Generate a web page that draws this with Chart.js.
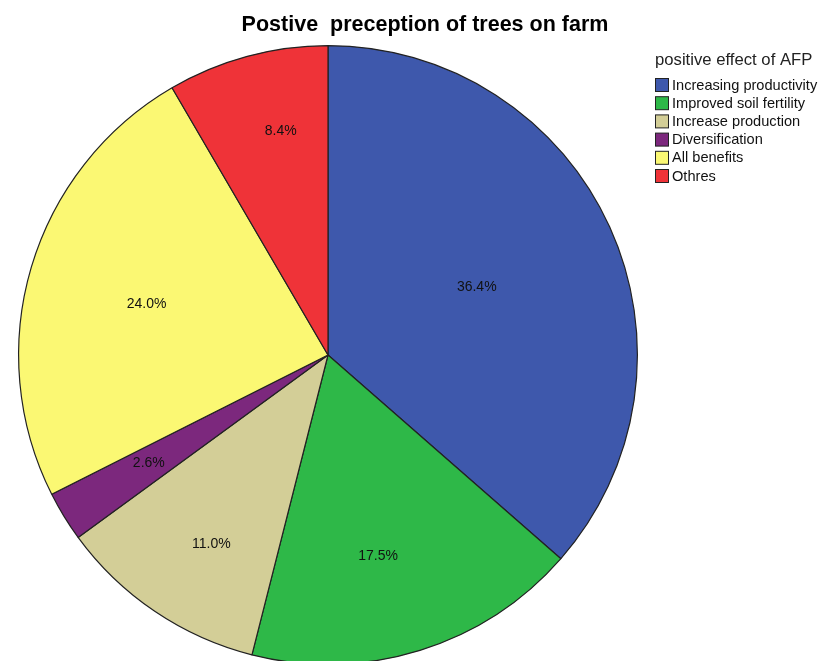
<!DOCTYPE html>
<html>
<head>
<meta charset="utf-8">
<script src="https://cdn.jsdelivr.net/npm/chart.js@4"></script>
<style>
  html, body { margin: 0; padding: 0; background: #ffffff; }
  #wrap { width: 823px; height: 661px; overflow: hidden; position: relative; }
  canvas { display: block; }
</style>
</head>
<body>
<div id="wrap"><canvas id="c" width="823" height="700"></canvas></div>
<script>
// Survey answers: positive effects of agroforestry practice (percent of respondents)
const categories = [
  'Increasing productivity',
  'Improved soil fertility',
  'Increase production',
  'Diversification',
  'All benefits',
  'Othres'
];
const percents = [36.4, 17.5, 11.0, 2.6, 24.0, 8.4];
const sliceColors = ['#3E58AC', '#2EB848', '#D3CE97', '#7C287D', '#FBF873', '#EF3338'];
const chartTitle = 'Postive  preception of trees on farm';
const legendTitle = 'positive effect of AFP';

const FONT = '"Liberation Sans", Arial, sans-serif';

// Where each percentage label sits inside its slice: fraction of the radius
// and a small angular nudge (degrees) from the slice's middle.
const labelRadius = [0.528, 0.669, 0.718, 0.676, 0.609, 0.739];
const labelNudge = [0, 3.3, -2.4, 0.4, -0.8, 3.2];

const sliceLabels = {
  id: 'sliceLabels',
  afterDatasetsDraw(chart) {
    const ctx = chart.ctx;
    const meta = chart.getDatasetMeta(0);
    ctx.save();
    ctx.font = '14px ' + FONT;
    ctx.fillStyle = '#111111';
    ctx.textAlign = 'center';
    ctx.textBaseline = 'middle';
    meta.data.forEach((arc, i) => {
      const p = arc.getProps(['x', 'y', 'startAngle', 'endAngle', 'outerRadius'], true);
      const mid = (p.startAngle + p.endAngle) / 2 + labelNudge[i] * Math.PI / 180;
      const r = p.outerRadius * labelRadius[i];
      const x = p.x + Math.cos(mid) * r;
      const y = p.y + Math.sin(mid) * r;
      ctx.fillText(percents[i].toFixed(1) + '%', x, y);
    });
    ctx.restore();
  }
};

const titleAndLegend = {
  id: 'titleAndLegend',
  afterDraw(chart) {
    const ctx = chart.ctx;
    ctx.save();
    // chart title
    ctx.font = 'bold 21.5px ' + FONT;
    ctx.fillStyle = '#000000';
    ctx.textAlign = 'center';
    ctx.textBaseline = 'middle';
    ctx.fillText(chartTitle, 425, 25);

    // legend heading
    ctx.font = '16.7px ' + FONT;
    ctx.textAlign = 'left';
    ctx.fillStyle = '#222222';
    ctx.fillText(legendTitle, 655, 60);

    // legend entries
    ctx.font = '14.6px ' + FONT;
    const ds = chart.data.datasets[0];
    chart.data.labels.forEach((lab, i) => {
      const cy = 85 + i * 18.2;
      ctx.fillStyle = ds.backgroundColor[i];
      ctx.fillRect(655.5, cy - 6.5, 13, 13);
      ctx.strokeStyle = '#222222';
      ctx.lineWidth = 1;
      ctx.strokeRect(655.5, cy - 6.5, 13, 13);
      ctx.fillStyle = '#111111';
      ctx.fillText(lab, 672, cy + 0.5);
    });
    ctx.restore();
  }
};

new Chart(document.getElementById('c'), {
  type: 'pie',
  data: {
    labels: categories,
    datasets: [{
      data: percents,
      backgroundColor: sliceColors,
      borderColor: '#222222',
      borderWidth: 1.2
    }]
  },
  options: {
    responsive: false,
    devicePixelRatio: 1,
    animation: false,
    layout: { padding: { left: 18, right: 185, top: 45, bottom: 35 } },
    plugins: {
      legend: { display: false },
      title: { display: false },
      tooltip: { enabled: false }
    }
  },
  plugins: [sliceLabels, titleAndLegend]
});
</script>
</body>
</html>
